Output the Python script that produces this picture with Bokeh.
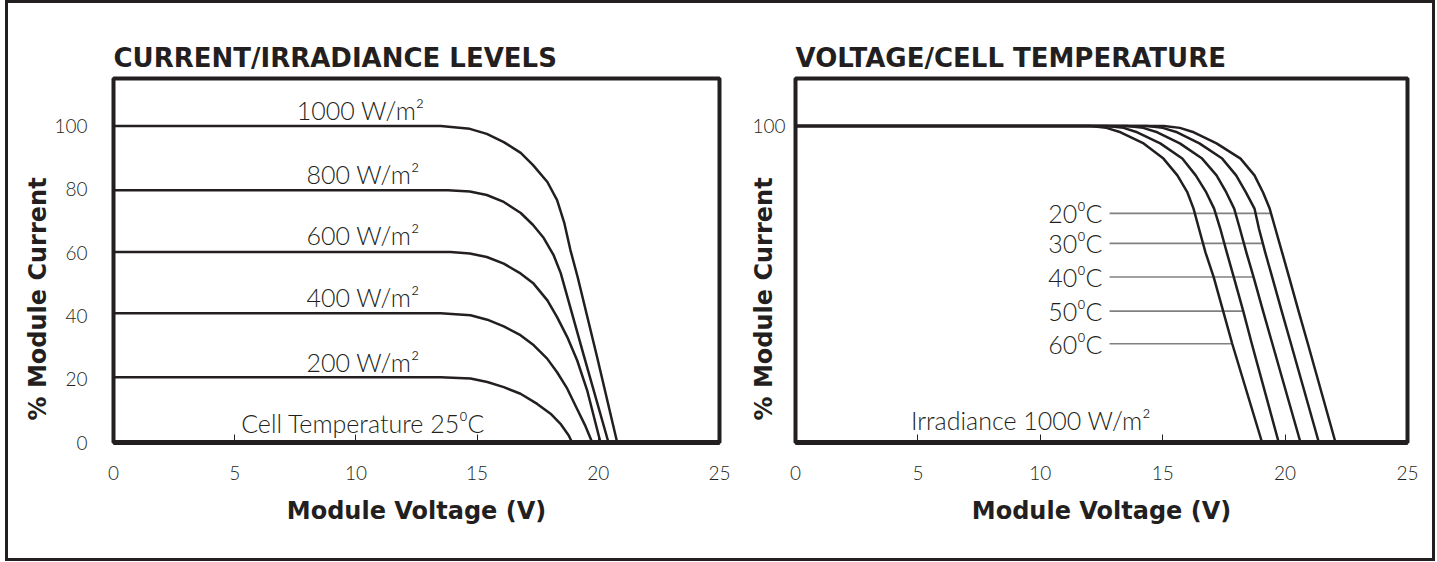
from bokeh.plotting import figure
from bokeh.layouts import row
from bokeh.models import FixedTicker, Range1d, ColumnDataSource, Title
from bokeh.core.properties import value
from bokeh.embed import file_html
from bokeh.resources import INLINE

INK = "#231f20"
GRAY = "#808080"
TICK = "#231f20"
LIGHT = "Lato Light"

x_ticks = [0, 5, 10, 15, 20, 25]
y_ticks_left = [0, 20, 40, 60, 80, 100]
y_ticks_right = [100]
x_title = "Module Voltage (V)"
y_title = "% Module Current"

# ---- Left chart: current vs voltage at 25 C for five irradiance levels ----
irr_labels = ["1000 W/m²", "800 W/m²", "600 W/m²", "400 W/m²", "200 W/m²"]
irr_label_x = [10.2, 10.3, 10.3, 10.3, 10.3]
irr_label_y = [105.2, 84.9, 65.4, 46.0, 25.3]

v_1000 = [0, 13.5, 14.7, 15.4, 16.1, 16.8, 17.3, 17.9, 18.3, 18.6, 18.85, 19.15, 19.95, 20.78]
i_1000 = [100, 100, 99.1, 97.5, 94.9, 91.5, 87.7, 82.3, 76.6, 69.3, 60.8, 52.2, 27.0, 0]
v_800 = [0, 13.8, 14.7, 15.4, 16.1, 16.8, 17.3, 17.75, 18.15, 18.45, 19.4, 20.42]
i_800 = [79.7, 79.7, 79.3, 78.2, 76.0, 72.5, 68.8, 64.6, 59.3, 53.5, 27.5, 0]
v_600 = [0, 13.9, 14.7, 15.4, 16.1, 16.75, 17.33, 17.9, 18.3, 18.72, 19.13, 19.54, 20.09]
i_600 = [60.2, 60.2, 59.7, 58.6, 56.5, 53.6, 50.2, 44.9, 39.6, 33.3, 25.9, 16.5, 0]
v_400 = [0, 13.5, 14.73, 15.42, 16.1, 16.79, 17.34, 17.89, 18.3, 18.72, 19.1, 19.45, 19.75]
i_400 = [40.8, 40.8, 40.2, 38.8, 36.7, 33.9, 30.7, 26.5, 22.2, 17.0, 11.0, 5.5, 0]
v_200 = [0, 13.5, 14.73, 15.42, 16.1, 16.79, 17.48, 18.03, 18.44, 18.78, 18.92]
i_200 = [20.6, 20.6, 20.2, 19.1, 17.5, 15.4, 12.2, 9.1, 5.9, 2.2, 0]

left_note = "Cell Temperature 25⁰C"
left_note_x = 10.3
left_note_y = 6.2

# ---- Right chart: current vs voltage at 1000 W/m2 for five cell temperatures ----
temp_labels = ["20⁰C", "30⁰C", "40⁰C", "50⁰C", "60⁰C"]
temp_label_x = 12.54
temp_lead_start = 12.83
temp_lead_y = [72.4, 62.9, 52.3, 41.5, 31.2]
temp_lead_end = [19.40, 19.08, 18.71, 18.29, 17.84]

i_temp = [100, 100, 99.4, 98.0, 94.5, 89.7, 84.4, 79.0, 73.9, 67.6, 60.0, 52.3, 41.5, 31.2, 0]
v_20c = [0, 15.05, 15.7, 16.27, 17.2, 18.18, 18.75, 19.1, 19.37, 19.6, 19.88, 20.16, 20.55, 20.93, 22.06]
v_30c = [0, 14.37, 15.0, 15.59, 16.5, 17.43, 18.0, 18.4, 18.75, 18.93, 19.19, 19.47, 19.86, 20.24, 21.38]
v_40c = [0, 13.55, 14.2, 14.78, 15.7, 16.61, 17.2, 17.6, 17.92, 18.15, 18.42, 18.71, 19.1, 19.48, 20.63]
v_50c = [0, 12.73, 13.4, 13.96, 14.9, 15.8, 16.35, 16.78, 17.1, 17.35, 17.62, 17.9, 18.29, 18.64, 19.74]
v_60c = [0, 12.05, 12.7, 13.28, 14.22, 15.03, 15.6, 16.01, 16.26, 16.48, 16.75, 17.08, 17.47, 17.84, 19.06]

right_note = "Irradiance 1000 W/m²"
right_note_x = 9.62
right_note_y = 7.2


def make_panel(title, frame_w, border_left, border_right, y_ticks, ytick_standoff, ylab_standoff):
    p = figure(frame_width=frame_w, frame_height=364,
               x_range=Range1d(0, 25), y_range=Range1d(0, 115),
               min_border_left=border_left, min_border_right=border_right,
               min_border_top=75, min_border_bottom=116,
               output_backend="svg", toolbar_location=None, title=title)
    p.title.text_font = "DejaVu Sans"
    p.title.text_font_style = "bold"
    p.title.text_font_size = "26px"
    p.title.text_color = INK
    p.title.align = "left"
    p.title.standoff = 11
    p.background_fill_color = "white"
    p.border_fill_color = "white"
    p.outline_line_color = INK
    p.outline_line_width = 4
    p.xgrid.visible = False
    p.ygrid.visible = False

    xa = p.xaxis[0]
    xa.ticker = FixedTicker(ticks=x_ticks)
    xa.axis_label = x_title
    xa.axis_label_text_font = "DejaVu Sans"
    xa.axis_label_text_font_style = "bold"
    xa.axis_label_text_font_size = "24px"
    xa.axis_label_text_color = INK
    xa.axis_label_standoff = 14
    xa.axis_line_color = INK
    xa.axis_line_width = 5
    xa.major_tick_in = 8
    xa.major_tick_out = 0
    xa.major_tick_line_color = INK
    xa.major_tick_line_width = 1
    xa.minor_tick_line_color = None
    xa.major_label_standoff = 23
    xa.major_label_text_font = LIGHT
    xa.major_label_text_font_size = "19px"
    xa.major_label_text_color = TICK

    ya = p.yaxis[0]
    ya.ticker = FixedTicker(ticks=y_ticks)
    ya.axis_line_color = None
    ya.major_tick_line_color = None
    ya.minor_tick_line_color = None
    ya.major_label_standoff = ytick_standoff
    ya.major_label_text_font = LIGHT
    ya.major_label_text_font_size = "19px"
    ya.major_label_text_color = TICK

    # vertical axis title as a side title, starting a little above the frame bottom
    p.add_layout(Title(text=y_title, align="left", offset=22,
                       standoff=ylab_standoff,
                       text_font="DejaVu Sans", text_font_style="bold",
                       text_font_size="24px", text_color=INK), "left")
    return p


left = make_panel("CURRENT/IRRADIANCE LEVELS", 606, 105, 12, y_ticks_left, 20, 0)
for vs, cs in [(v_1000, i_1000), (v_800, i_800), (v_600, i_600), (v_400, i_400), (v_200, i_200)]:
    left.line(vs, cs, line_color=INK, line_width=2.5, line_join="round")

left_txt = ColumnDataSource(dict(x=irr_label_x + [left_note_x],
                                 y=irr_label_y + [left_note_y],
                                 t=irr_labels + [left_note]))
left.text(x="x", y="y", text="t", source=left_txt, text_font=value(LIGHT),
          text_font_size="25px", text_color=INK, text_align="center",
          text_baseline="middle")

right = make_panel("VOLTAGE/CELL TEMPERATURE", 612, 64, 25, y_ticks_right, 4, -56)
right.segment(x0=[temp_lead_start] * len(temp_lead_y), y0=temp_lead_y,
              x1=temp_lead_end, y1=temp_lead_y, line_color=GRAY, line_width=1.6)
for vs in [v_20c, v_30c, v_40c, v_50c, v_60c]:
    right.line(vs, i_temp, line_color=INK, line_width=2.5, line_join="round")

temp_txt = ColumnDataSource(dict(x=[temp_label_x] * len(temp_labels), y=temp_lead_y, t=temp_labels))
right.text(x="x", y="y", text="t", source=temp_txt, text_font=value(LIGHT),
           text_font_size="25px", text_color=INK, text_align="right",
           text_baseline="middle")
note_txt = ColumnDataSource(dict(x=[right_note_x], y=[right_note_y], t=[right_note]))
right.text(x="x", y="y", text="t", source=note_txt, text_font=value(LIGHT),
           text_font_size="25px", text_color=INK, text_align="center",
           text_baseline="middle")

layout = row(left, right, styles={"border": "3px solid #231f20", "margin-left": "5px"})

open("out.html", "w").write(file_html(layout, INLINE))
